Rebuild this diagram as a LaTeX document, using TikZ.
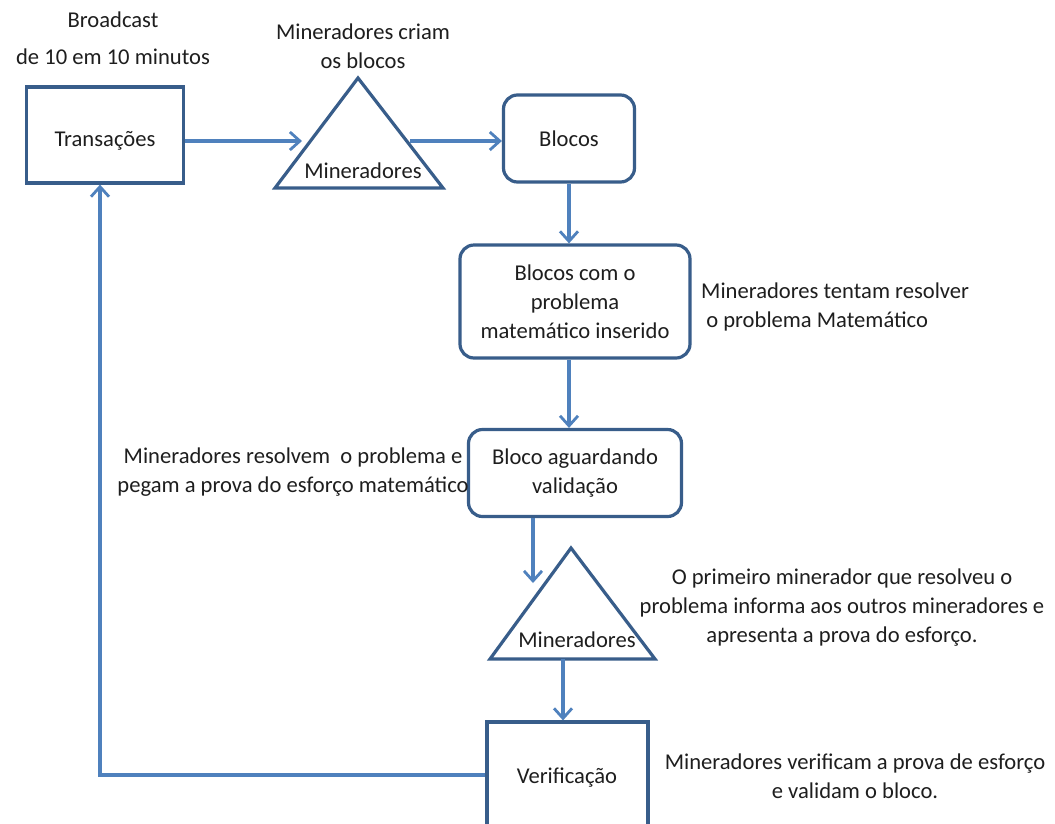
\documentclass[tikz,border=0pt]{standalone}
\usepackage{fontspec}
\setmainfont{Carlito}
\usepackage{tikz}
\usetikzlibrary{arrows.meta}
\usetikzlibrary{positioning}

\definecolor{azul}{RGB}{79,129,189}
\definecolor{borda}{RGB}{56,93,138}
\definecolor{texto}{RGB}{30,30,30}

\tikzset{
	caixa/.style={draw=borda, line width=3.2pt, rectangle, text=texto, align=center},
	caixaR/.style={caixa, rounded corners=14pt},
	tri/.style={draw=borda, line width=3.2pt, line join=miter},
	seta/.style={->, >={Straight Barb[length=10pt,width=18pt,line width=2.8pt]}, draw=azul, line width=3.2pt},
	rotulo/.style={text=texto, align=center, inner sep=0pt}
}

\begin{document}
\begin{tikzpicture}[x=1pt,y=-1pt,font=\fontsize{22.6}{29}\selectfont]
		
		\clip (0,0) rectangle (1055,823);
		\fill[white] (0,0) rectangle (1055,823);
		
		% caixas
		\node[caixa, minimum width=157pt, minimum height=96pt] (trans) at (105,135) {};
		\node[rotulo] (transtxt) at (105,141) {Transações};
		\node[caixaR, minimum width=131pt, minimum height=87pt] (blocos) at (569,138.5) {Blocos};
		\node[caixaR, minimum width=230pt, minimum height=113pt] (prob) at (575,301.5) {Blocos com o\\problema\\matemático inserido};
		\node[caixaR, minimum width=213pt, minimum height=87pt] (aguard) at (575,473) {Bloco aguardando\\validação};
		\node[caixa, minimum width=161pt, minimum height=130pt] (verif) at (567.5,787) {};
		\node[rotulo] (veriftxt) at (567,778) {Verificação};
		
		% triangulos
		\coordinate (m1top) at (358,78);
		\coordinate (m1l) at (275,188);
		\coordinate (m1r) at (443,188);
		\draw[tri] (m1top) -- (m1l) -- (m1r) -- cycle;
		\node[rotulo] (m1) at (363,171) {Mineradores};
		
		\coordinate (m2top) at (571,548);
		\coordinate (m2l) at (490,659);
		\coordinate (m2r) at (655,659);
		\draw[tri] (m2top) -- (m2l) -- (m2r) -- cycle;
		\node[rotulo] (m2) at (577,640) {Mineradores};
		
		% pontos de ligacao
		\coordinate (m1in) at (302,141);
		\coordinate (m1out) at (410,141);
		\coordinate (m2in) at (533,583);
		\coordinate (m2out) at (563,659);
		\coordinate (volta) at (100,775);
		
		% setas
		\draw[seta] ([yshift=-6pt]trans.east) -- (m1in);
		\draw[seta] (m1out) -- (m1out -| blocos.west);
		\draw[seta] (blocos.south) -- (blocos.south |- prob.north);
		\draw[seta] (prob.south -| blocos.south) -- (blocos.south |- aguard.north);
		\draw[seta] (aguard.south -| m2in) -- (m2in);
		\draw[seta] (m2out) -- (m2out |- verif.north);
		\draw[seta] (volta -| verif.west) -- (volta) -- (volta |- trans.south);
		
		% textos
		\node[rotulo] (bcast) at (113,38) {Broadcast\\[8pt]de 10 em 10 minutos};
		\node[rotulo] (criam) at (363,46) {Mineradores criam\\os blocos};
		\node[rotulo, align=left, anchor=west] (tentam) at (701,307) {Mineradores tentam resolver\\\ o problema Matemático};
		\node[rotulo] (resolvem) at (293,472) {Mineradores resolvem\ \ o problema e\\pegam a prova do esforço matemático};
		\node[rotulo] (primeiro) at (842,608) {O primeiro minerador que resolveu o\\problema informa aos outros mineradores e\\apresenta a prova do esforço.};
		\node[rotulo] (verificam) at (855,776) {Mineradores verificam a prova de esforço\\e validam o bloco.};
	\end{tikzpicture}
\end{document}
